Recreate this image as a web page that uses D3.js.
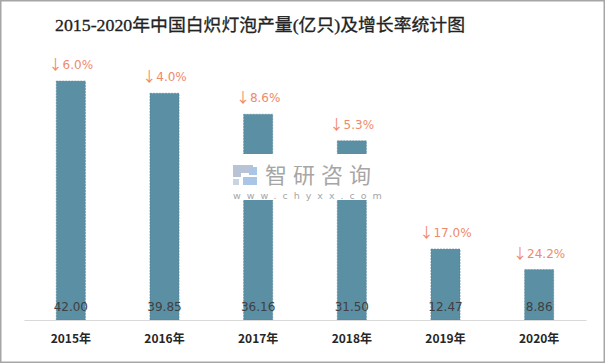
<!DOCTYPE html>
<html><head><meta charset="utf-8">
<script src="https://cdn.jsdelivr.net/npm/d3@7"></script>
<style>body{margin:0;background:#fff}svg{display:block}</style>
</head><body><svg id="c" width="606" height="364"></svg>
<script>
const years = ["2015年","2016年","2017年","2018年","2019年","2020年"];
const output = [42.00, 39.85, 36.16, 31.50, 12.47, 8.86];
const valueLabels = ["42.00","39.85","36.16","31.50","12.47","8.86"];
const growthLabels = ["6.0%","4.0%","8.6%","5.3%","17.0%","24.2%"];
const title = "2015-2020年中国白炽灯泡产量(亿只)及增长率统计图";

const svg = d3.select("#c");
const W = 606, H = 364;
svg.append("rect").attr("x",0.75).attr("y",0.75).attr("width",W-2.5).attr("height",H-2.5)
  .attr("fill","#fff").attr("stroke","#a6a6a6").attr("stroke-width",1.5);

svg.append("text").attr("x",55).attr("y",31).attr("text-anchor","start")
  .attr("font-family","'Liberation Serif','Noto Sans CJK SC',serif").attr("font-size",17)
  .attr("font-weight","normal").attr("fill","#222").attr("stroke","#222").attr("stroke-width",0.3)
  .attr("textLength",410).attr("lengthAdjust","spacingAndGlyphs")
  .text(title);

const x = d3.scaleBand().domain(years).range([24,586]).paddingInner(0.69).paddingOuter(0.345);
const y = d3.scaleLinear().domain([0,45]).range([320,64]);

const g = svg.append("g");
g.selectAll("rect.bar").data(output).join("rect").attr("class","bar")
  .attr("x",(d,i)=>x(years[i])).attr("width",x.bandwidth())
  .attr("y",d=>y(d)).attr("height",d=>y(0)-y(d))
  .attr("fill","#5b8fa4").attr("stroke","#4f7f94").attr("stroke-width",0.6).attr("stroke-dasharray","2,1");

const xAxis = d3.axisBottom(x).tickSize(0).tickPadding(14);
const ax = svg.append("g").attr("transform","translate(0,320)").call(xAxis);
ax.select(".domain").attr("stroke","#d9d9d9").attr("stroke-width",1.2);
ax.selectAll("text").attr("font-family","'Noto Sans CJK SC','Noto Sans',sans-serif")
  .attr("font-size",12).attr("font-weight","bold").attr("fill","#262626");

g.selectAll("text.val").data(output).join("text").attr("class","val")
  .attr("x",(d,i)=>x(years[i])+x.bandwidth()/2).attr("y",y(0)-9)
  .attr("text-anchor","middle").attr("font-family","'DejaVu Sans',sans-serif")
  .attr("font-size",12).attr("fill","#404040").text((d,i)=>valueLabels[i]);

const gr = g.selectAll("text.gr").data(output).join("text").attr("class","gr")
  .attr("x",(d,i)=>x(years[i])+x.bandwidth()/2).attr("y",d=>y(d)-12)
  .attr("text-anchor","middle").attr("font-size",12).attr("fill","#f0896b");
gr.append("tspan").attr("font-family","'Noto Sans CJK SC',sans-serif").attr("font-size",14).text("↓");
gr.append("tspan").attr("font-family","'DejaVu Sans',sans-serif").text((d,i)=>growthLabels[i]);

// watermark
const wm = svg.append("g");
wm.append("rect").attr("x",229).attr("y",154).attr("width",148).attr("height",46).attr("fill","#fff");
const lg = wm.append("g").attr("transform","translate(233,165)");
lg.append("path").attr("d","M0,0 H20 V8 H8 V12 H0 Z").attr("fill","#b8c3d6");
lg.append("path").attr("d","M0,14 H6 V20 H0 Z").attr("fill","#c9d3e3");
lg.append("path").attr("d","M10,12 H24 V20 H10 Z M16,2 H24 V10 H16 Z").attr("fill","#a9c6e6");
wm.append("text").attr("x",265).attr("y",183).attr("font-family","'Noto Sans CJK SC',sans-serif")
  .attr("font-size",22).attr("fill","#a6a6a6").attr("letter-spacing",6).text("智研咨询");
wm.append("text").attr("x",233).attr("y",199).attr("font-family","'DejaVu Sans',sans-serif")
  .attr("font-size",9.5).attr("fill","#a6a6a6").attr("letter-spacing",6).text("www.chyxx.com");
</script></body></html>
